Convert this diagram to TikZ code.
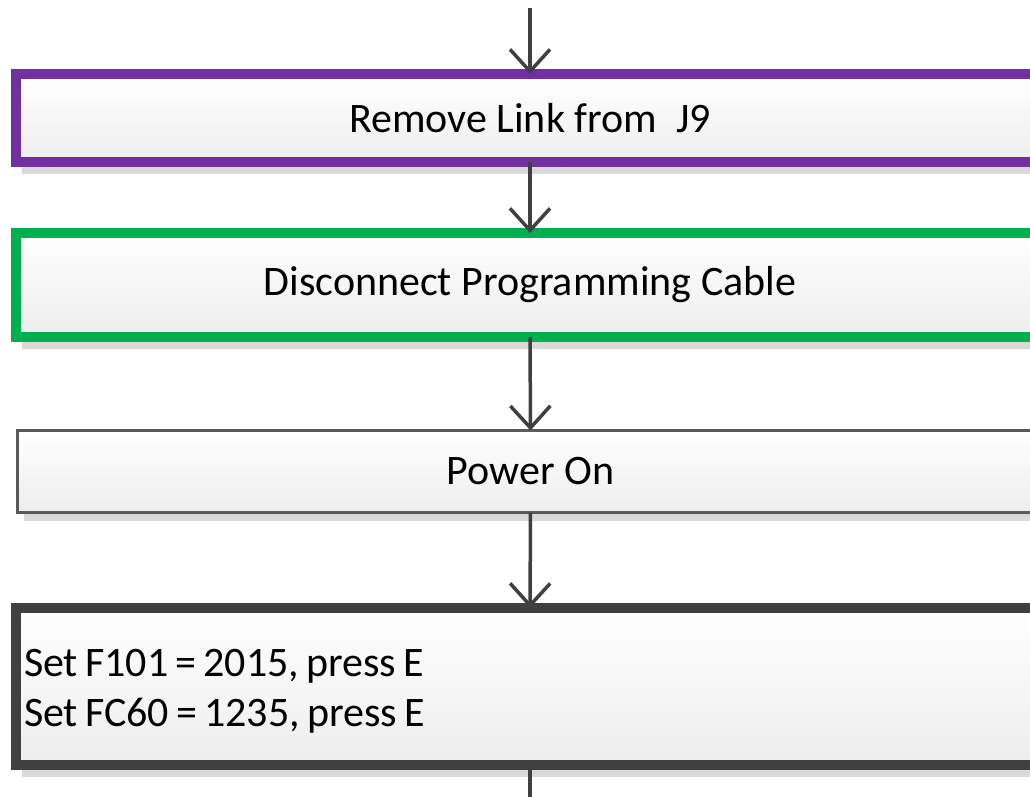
\documentclass[tikz,border=0pt]{standalone}
\usepackage{fontspec}
\setmainfont{Carlito}
\usetikzlibrary{arrows.meta,shadows}
\definecolor{oPurple}{HTML}{7030A0}
\definecolor{oGreen}{HTML}{00B050}
\definecolor{oDark}{HTML}{404040}
\definecolor{oGray}{HTML}{5A5A5A}
\definecolor{oShadow}{HTML}{D9D9D9}
\tikzset{
  stepbox/.style={rectangle, outer sep=0pt, inner sep=0pt,
    minimum width=1028pt, top color=white, bottom color=black!7,
    font=\fontsize{42}{50}\selectfont, text=black},
  thickbox/.style={stepbox, line width=10pt,
    drop shadow={shadow xshift=6pt, shadow yshift=-12pt, fill=oShadow, opacity=1}},
  thinbox/.style={stepbox, line width=3pt, draw=oGray, minimum width=1026pt,
    drop shadow={shadow xshift=6pt, shadow yshift=-8pt, fill=oShadow, opacity=1}},
  flow/.style={draw=oDark, line width=3.5pt,
    -{Straight Barb[length=22pt,width=40pt,line width=3.5pt]}},
}
\begin{document}
\begin{tikzpicture}[x=1pt,y=-1pt]
\useasboundingbox (0,0) rectangle (1030,797);
\clip (0,0) rectangle (1030,797);
\coordinate (top) at (530,8);
\coordinate (bot) at (530,820);
\node[thickbox, draw=oPurple, minimum height=88pt] (n1) at (530,118) {Remove Link from\ \ J9};
\node[thickbox, draw=oGreen, minimum height=104pt] (n2) at (530,285) {Disconnect Programming Cable};
\node[thinbox, minimum height=82pt] (n3) at (530.5,471.5) {Power On};
\node[thickbox, draw=oDark, minimum height=157pt, text width=1012pt, inner xsep=8pt, align=left] (n4) at (530,686.5) {\spaceskip=0.17em plus 0.05em\relax\rule{0pt}{36pt}Set F101 = 2015, press E\\Set FC60 = 1235, press E};
\draw[flow] (top) -- (n1.north);
\draw[flow] (n1.south) -- (n2.north);
\draw[flow] (n2.south) -- (n3.north);
\draw[flow] (n3.south) -- (n4.north);
\draw[draw=oDark, line width=3.5pt] (n4.south) -- (bot);
\end{tikzpicture}
\end{document}
